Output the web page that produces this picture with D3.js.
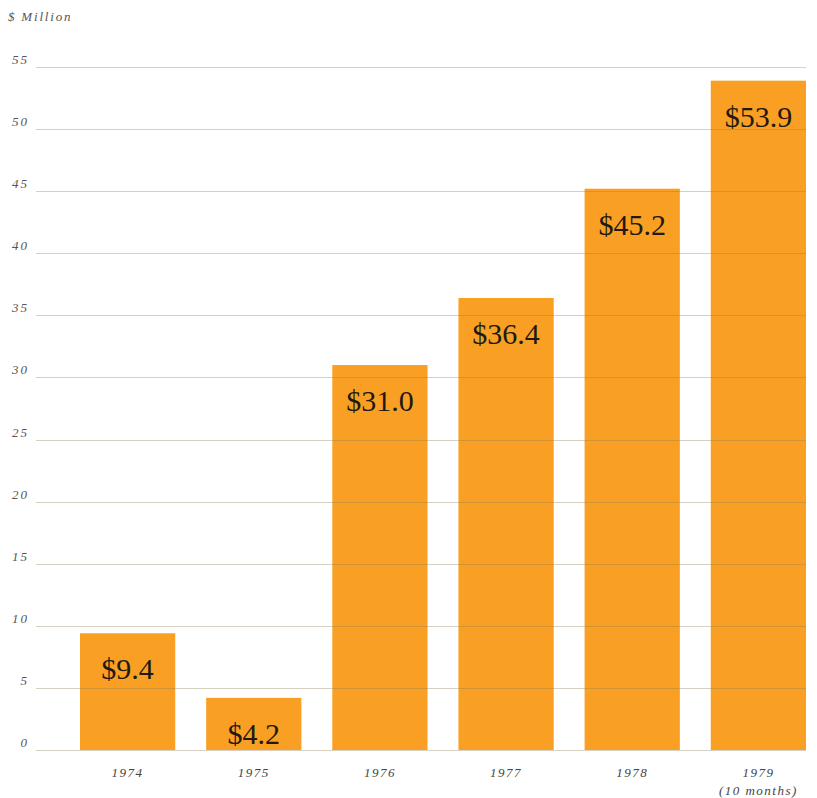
<!DOCTYPE html>
<html lang="en">
<head>
  <meta charset="UTF-8">
  <title>$ Million</title>
  <script src="https://d3js.org/d3.v7.min.js"></script>
  <style>
    body { margin: 0; background: #fff; }
    svg text { font-family: 'Liberation Serif', 'DejaVu Serif', serif; }
  </style>
</head>
<body>
  <div id="chart"></div>
  <script>
    // data
    const years = ['1974', '1975', '1976', '1977', '1978', '1979'];
    const subLabels = ['', '', '', '', '', '(10 months)'];
    const values = [9.4, 4.2, 31.0, 36.4, 45.2, 53.9];
    const valueLabels = ['$9.4', '$4.2', '$31.0', '$36.4', '$45.2', '$53.9'];
    const yTicks = [0, 5, 10, 15, 20, 25, 30, 35, 40, 45, 50, 55];

    const width = 817, height = 798;
    const svg = d3.select('#chart').append('svg')
      .attr('width', width)
      .attr('height', height);

    const x = d3.scaleBand()
      .domain(years)
      .range([80, 806])
      .paddingInner(0.245)
      .paddingOuter(0);

    const y = d3.scaleLinear()
      .domain([0, 55])
      .range([750, 67]);

    // unit label
    svg.append('text')
      .attr('x', 8).attr('y', 21)
      .attr('font-style', 'italic')
      .attr('font-size', 13)
      .attr('letter-spacing', 1.8)
      .attr('fill', '#555')
      .text('$ Million');

    // bars
    svg.selectAll('rect.bar')
      .data(values)
      .enter().append('rect')
      .attr('class', 'bar')
      .attr('x', (d, i) => x(years[i]))
      .attr('width', x.bandwidth())
      .attr('y', d => y(d))
      .attr('height', d => y(0) - y(d))
      .attr('fill', '#F9A024');

    // grid lines, drawn over the bars
    svg.selectAll('line.grid')
      .data(yTicks)
      .enter().append('line')
      .attr('class', 'grid')
      .attr('x1', 36).attr('x2', 806)
      .attr('y1', d => Math.round(y(d)) + 0.5)
      .attr('y2', d => Math.round(y(d)) + 0.5)
      .attr('stroke', '#8a7a50')
      .attr('stroke-opacity', 0.35)
      .attr('stroke-width', 1);

    // y tick labels
    svg.selectAll('text.ytick')
      .data(yTicks)
      .enter().append('text')
      .attr('class', 'ytick')
      .attr('x', 29)
      .attr('y', d => y(d) - 3)
      .attr('text-anchor', 'end')
      .attr('font-style', 'italic')
      .attr('font-size', 13)
      .attr('letter-spacing', 2)
      .attr('fill', '#555')
      .text(d => d);

    // value labels inside bars
    svg.selectAll('text.val')
      .data(values)
      .enter().append('text')
      .attr('class', 'val')
      .attr('x', (d, i) => x(years[i]) + x.bandwidth() / 2)
      .attr('y', d => y(d) + 46)
      .attr('text-anchor', 'middle')
      .attr('font-size', 30)
      .attr('fill', '#221a12')
      .text((d, i) => valueLabels[i]);

    // x labels
    svg.selectAll('text.xlab')
      .data(years)
      .enter().append('text')
      .attr('class', 'xlab')
      .attr('x', d => x(d) + x.bandwidth() / 2)
      .attr('y', 777)
      .attr('text-anchor', 'middle')
      .attr('font-style', 'italic')
      .attr('font-size', 13)
      .attr('letter-spacing', 1.5)
      .attr('fill', '#444')
      .text(d => d);

    svg.selectAll('text.xsub')
      .data(years)
      .enter().append('text')
      .attr('class', 'xsub')
      .attr('x', d => x(d) + x.bandwidth() / 2)
      .attr('y', 795)
      .attr('text-anchor', 'middle')
      .attr('font-style', 'italic')
      .attr('font-size', 13)
      .attr('letter-spacing', 1.5)
      .attr('fill', '#444')
      .text((d, i) => subLabels[i]);
  </script>
</body>
</html>
